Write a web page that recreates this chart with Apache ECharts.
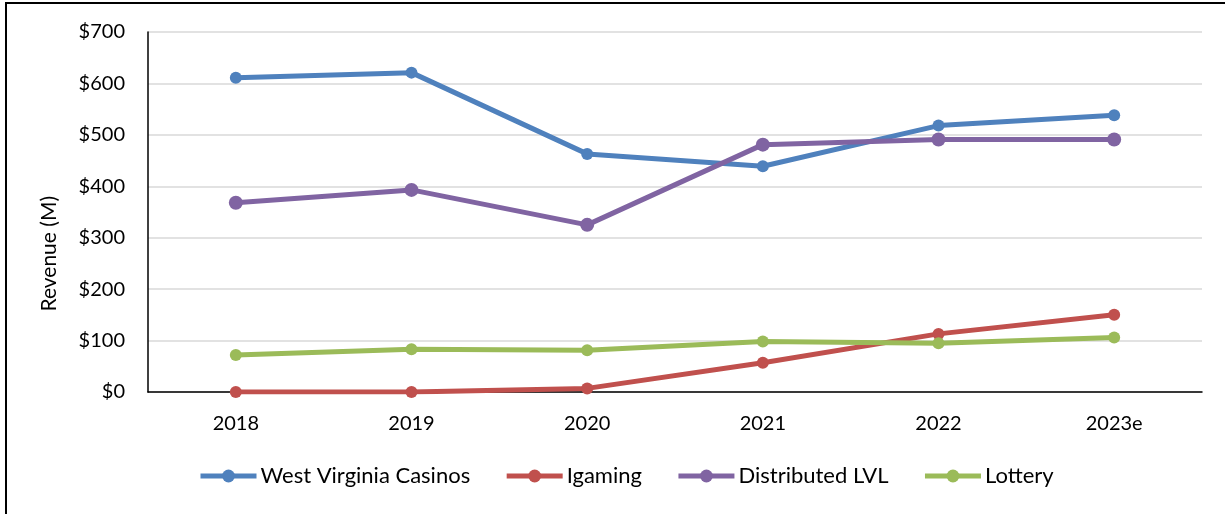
<!DOCTYPE html>
<html>
<head>
<meta charset="utf-8">
<title>Revenue chart</title>
<script src="https://cdn.jsdelivr.net/npm/echarts@6.0.0/dist/echarts.min.js"></script>
<style>
  html, body { margin: 0; padding: 0; background: #fff; }
  #chart { position: absolute; left: 0; top: 0; width: 1225px; height: 514px; }
  #frame { position: absolute; left: 5px; top: 2px; width: 1240px; height: 540px;
           border-left: 2px solid #000; border-top: 2px solid #000; pointer-events: none; }
</style>
</head>
<body>
<div id="chart"></div>
<div id="frame"></div>
<script>
const years = ["2018", "2019", "2020", "2021", "2022", "2023e"];
const wvCasinos = [611, 621, 463, 439, 518, 538];
const igaming = [0, 0, 7, 57, 113, 150];
const distributedLvl = [368, 393, 325, 481, 491, 491];
const lottery = [72, 83, 81, 98, 95, 106];

const FONT = "Lato, 'Open Sans', sans-serif";

const chart = echarts.init(document.getElementById("chart"));

function lineSeries(name, data, color, size) {
  return {
    name,
    type: "line",
    data,
    symbol: "circle",
    symbolSize: size,
    showSymbol: true,
    lineStyle: { width: 5, color },
    itemStyle: { color },
  };
}

chart.setOption({
  animation: false,
  textStyle: { fontFamily: FONT },
  grid: { left: 148, right: 23, top: 32, bottom: 122 },
  legend: {
    left: 198,
    top: 465,
    padding: 0,
    itemWidth: 56,
    itemHeight: 16,
    itemGap: 34,
    lineStyle: { width: 5 },
    textStyle: { fontFamily: FONT, fontSize: 22, color: "#000", padding: [0, 0, 0, -1] },
    data: ["West Virginia Casinos", "Igaming", "Distributed LVL", "Lottery"],
  },
  graphic: [
    {
      type: "text",
      left: 39,
      top: 196,
      rotation: Math.PI / 2,
      style: { text: "Revenue (M)", font: "21px " + FONT, fill: "#000" },
    },
  ],
  xAxis: {
    type: "category",
    data: years,
    boundaryGap: true,
    axisTick: { show: false },
    axisLine: { lineStyle: { color: "#000", width: 1.5 } },
    axisLabel: { color: "#000", fontSize: 20, fontFamily: FONT, margin: 22 },
  },
  yAxis: {
    type: "value",
    min: 0,
    max: 700,
    interval: 100,
    axisLine: { show: true, lineStyle: { color: "#000", width: 1.5 } },
    axisTick: { show: false },
    splitLine: { lineStyle: { color: "#d9d9d9", width: 1.5 } },
    axisLabel: { color: "#000", fontSize: 20, fontFamily: FONT, margin: 23, formatter: (v) => "$" + v },
  },
  series: [
    lineSeries("West Virginia Casinos", wvCasinos, "#4f81bd", 12),
    lineSeries("Igaming", igaming, "#c0504d", 12),
    lineSeries("Distributed LVL", distributedLvl, "#8064a2", 14),
    lineSeries("Lottery", lottery, "#9bbb59", 12),
  ],
});
</script>
</body>
</html>
